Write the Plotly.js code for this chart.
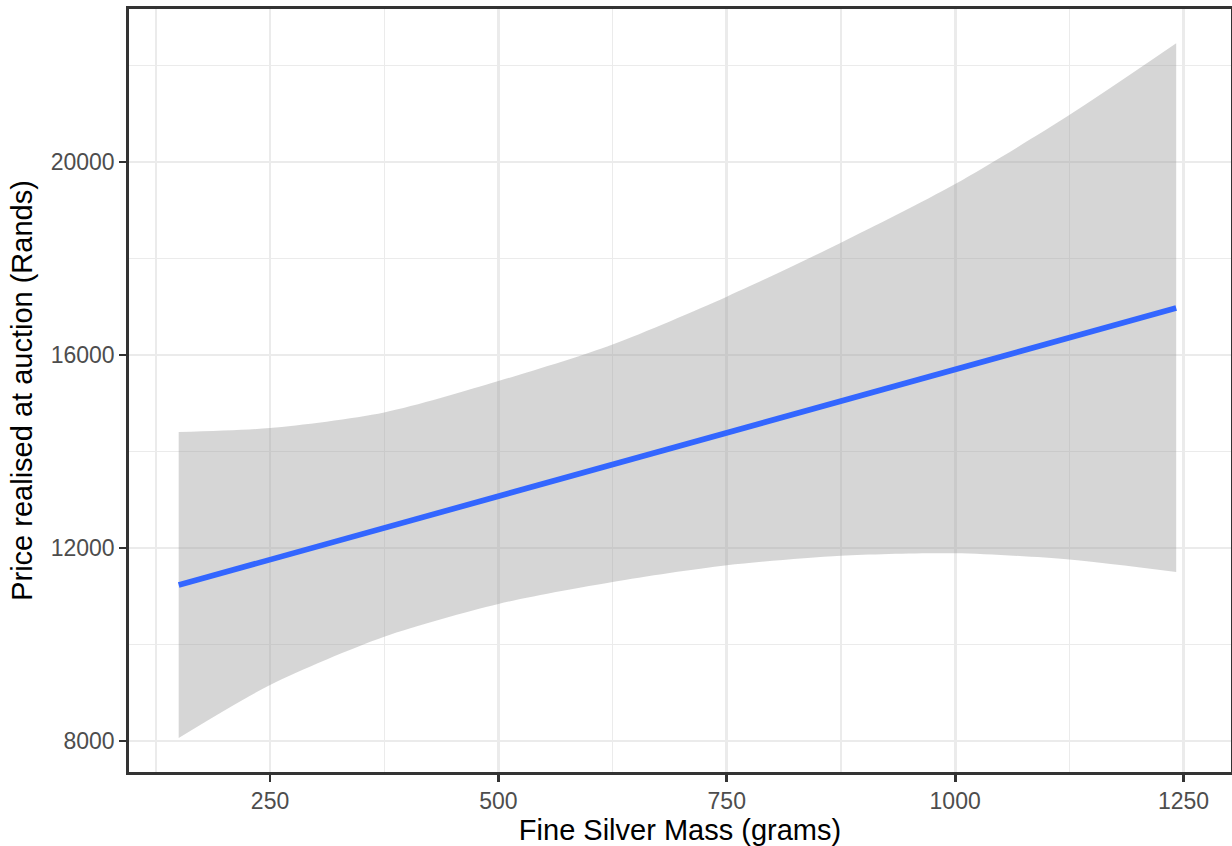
<!DOCTYPE html>
<html>
<head>
<meta charset="utf-8">
<script src="https://cdn.plot.ly/plotly-3.0.1.min.js"></script>
<style>
  html, body { margin: 0; padding: 0; background: #ffffff; }
  #chart { width: 1232px; height: 846px; }
</style>
</head>
<body>
<div id="chart"></div>
<script>
// Fine silver mass (grams) at which the fitted line and band were read
const massGrams = [150, 250, 375, 500, 625, 750, 875, 1000, 1125, 1242];
// Fitted linear trend (Rands)
const fitPrice = [11233, 11760, 12416, 13073, 13730, 14388, 15045, 15702, 16359, 16974];
// Upper and lower edges of the confidence band (Rands)
const upperPrice = [14403, 14486, 14810, 15460, 16220, 17209, 18328, 19544, 20974, 22460];
const lowerPrice = [8063, 9160, 10160, 10839, 11293, 11640, 11840, 11890, 11760, 11500];

const xTickVals = [250, 500, 750, 1000, 1250];
const yTickVals = [8000, 12000, 16000, 20000];

const traces = [
  {
    x: massGrams, y: lowerPrice, type: 'scatter', mode: 'lines',
    line: {color: 'rgba(0,0,0,0)', width: 0, shape: 'spline', smoothing: 0.8},
    hoverinfo: 'skip', showlegend: false
  },
  {
    x: massGrams, y: upperPrice, type: 'scatter', mode: 'lines',
    line: {color: 'rgba(0,0,0,0)', width: 0, shape: 'spline', smoothing: 0.8},
    fill: 'tonexty', fillcolor: 'rgba(153,153,153,0.4)',
    hoverinfo: 'skip', showlegend: false
  },
  {
    x: massGrams, y: fitPrice, type: 'scatter', mode: 'lines',
    line: {color: '#3366FF', width: 5.7},
    showlegend: false
  }
];

const fontFam = 'Liberation Sans, Arial, Helvetica, sans-serif';

const layout = {
  width: 1232, height: 846,
  margin: {l: 129, r: 1, t: 9, b: 74, pad: 0},
  paper_bgcolor: '#ffffff', plot_bgcolor: '#ffffff',
  font: {family: fontFam},
  showlegend: false,
  xaxis: {
    range: [95.6, 1302],
    tickvals: xTickVals,
    ticktext: xTickVals.map(String),
    showgrid: true, gridcolor: '#ebebeb', gridwidth: 2.8,
    minor: {tick0: 125, dtick: 250, showgrid: true, gridcolor: '#ebebeb', gridwidth: 1.4, ticks: ''},
    zeroline: false,
    showline: true, linecolor: '#333333', linewidth: 2.8, mirror: true,
    ticks: 'outside', ticklen: 7, tickwidth: 2.8, tickcolor: '#333333',
    tickfont: {size: 23, color: '#4d4d4d', family: fontFam},
    title: {text: 'Fine Silver Mass (grams)', font: {size: 29, color: '#000000', family: fontFam}, standoff: 8},
    automargin: false
  },
  yaxis: {
    range: [7357, 23172],
    tickvals: yTickVals,
    ticktext: yTickVals.map(String),
    showgrid: true, gridcolor: '#ebebeb', gridwidth: 2.8,
    minor: {tick0: 10000, dtick: 4000, showgrid: true, gridcolor: '#ebebeb', gridwidth: 1.4, ticks: ''},
    zeroline: false,
    showline: true, linecolor: '#333333', linewidth: 2.8, mirror: true,
    ticks: 'outside', ticklen: 7, tickwidth: 2.8, tickcolor: '#333333',
    tickfont: {size: 23, color: '#4d4d4d', family: fontFam},
    title: {text: 'Price realised at auction (Rands)', font: {size: 29, color: '#000000', family: fontFam}, standoff: 10},
    automargin: false
  }
};

Plotly.newPlot('chart', traces, layout, {displayModeBar: false, staticPlot: true});
</script>
</body>
</html>
